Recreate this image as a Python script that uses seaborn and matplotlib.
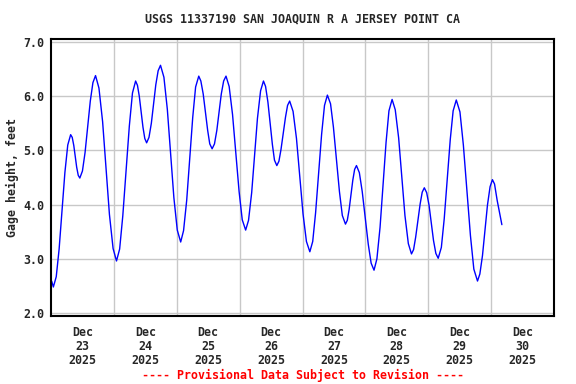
import matplotlib
matplotlib.use("Agg")
import matplotlib.pyplot as plt
import matplotlib.dates as mdates
import seaborn as sns
import pandas as pd

# ---- data (hours since 2025-12-23 00:00, gage height ft) ----
hours = [0.25, 0.9,
         2.0, 3.1, 5.3, 6.4, 7.5,
         8.1, 8.7, 9.8, 10.4, 11.0,
         12.0, 13.0, 15.0, 16.0, 17.0,
         18.3, 19.7, 22.3, 23.7, 25.0,
         26.2, 27.4, 29.9, 31.1, 32.3,
         33.0, 33.7, 35.1, 35.8, 36.5,
         37.4, 38.3, 40.0, 40.9, 41.8,
         43.1, 44.4, 46.9, 48.2, 49.5,
         50.6, 51.8, 54.1, 55.2, 56.4,
         57.2, 58.1, 59.8, 60.6, 61.5,
         62.4, 63.3, 65.0, 65.9, 66.8,
         68.0, 69.3, 71.8, 73.0, 74.3,
         75.4, 76.6, 78.8, 80.0, 81.1,
         81.9, 82.8, 84.5, 85.3, 86.2,
         87.0, 87.8, 89.5, 90.3, 91.1,
         92.4, 93.7, 96.2, 97.5, 98.8,
         99.9, 101.0, 103.3, 104.4, 105.5,
         106.7, 107.8, 110.1, 111.2, 112.4,
         113.1, 113.8, 115.2, 115.9, 116.6,
         117.7, 118.8, 121.1, 122.2, 123.3,
         124.4, 125.6, 127.9, 129.0, 130.2,
         131.4, 132.7, 135.1, 136.4, 137.6,
         138.4, 139.2, 140.9, 141.7, 142.5,
         143.4, 144.3, 146.0, 146.9, 147.8,
         149.0, 150.1, 152.4, 153.5, 154.7,
         156.1, 157.4, 160.1, 161.4, 162.8,
         163.7, 164.7, 166.6, 167.6, 168.5,
         169.3, 170.3, 172.1]
gage_ft = [2.59, 2.48,
           2.67, 3.18, 4.59, 5.10, 5.29,
           5.24, 5.09, 4.69, 4.54, 4.49,
           4.62, 4.96, 5.91, 6.25, 6.38,
           6.15, 5.53, 3.82, 3.19, 2.96,
           3.18, 3.79, 5.45, 6.06, 6.28,
           6.20, 6.00, 5.43, 5.22, 5.14,
           5.24, 5.50, 6.21, 6.47, 6.57,
           6.35, 5.76, 4.13, 3.53, 3.31,
           3.52, 4.08, 5.61, 6.17, 6.37,
           6.28, 6.04, 5.37, 5.12, 5.03,
           5.12, 5.37, 6.04, 6.28, 6.37,
           6.18, 5.66, 4.24, 3.72, 3.53,
           3.71, 4.22, 5.59, 6.10, 6.28,
           6.18, 5.89, 5.11, 4.82, 4.72,
           4.80, 5.02, 5.61, 5.83, 5.91,
           5.72, 5.22, 3.83, 3.32, 3.13,
           3.32, 3.85, 5.30, 5.83, 6.02,
           5.86, 5.43, 4.24, 3.80, 3.64,
           3.71, 3.91, 4.45, 4.65, 4.72,
           4.59, 4.24, 3.27, 2.92, 2.79,
           3.00, 3.58, 5.15, 5.73, 5.94,
           5.75, 5.23, 3.80, 3.28, 3.09,
           3.17, 3.40, 4.01, 4.23, 4.31,
           4.22, 3.99, 3.34, 3.10, 3.01,
           3.21, 3.74, 5.20, 5.73, 5.93,
           5.71, 5.10, 3.43, 2.81, 2.59,
           2.72, 3.06, 3.99, 4.33, 4.46,
           4.38, 4.08, 3.63]
day_numbers = [23, 24, 25, 26, 27, 28, 29, 30]
day_labels = [f"Dec\n{d}\n2025" for d in day_numbers]
y_ticks = [2.0, 3.0, 4.0, 5.0, 6.0, 7.0]
title = "USGS 11337190 SAN JOAQUIN R A JERSEY POINT CA"
footer = "---- Provisional Data Subject to Revision ----"

start = pd.Timestamp("2025-12-23")
df = pd.DataFrame({
    "time": start + pd.to_timedelta(hours, unit="h"),
    "gage": gage_ft,
})

sns.set_style("white")
plt.rcParams["font.family"] = ["DejaVu Sans Mono"]
plt.rcParams["font.weight"] = "bold"
FS = 8.4

fig = plt.figure(figsize=(5.76, 3.84), dpi=100)
ax = fig.add_axes([51 / 576, 1 - 316 / 384, (554 - 51) / 576, (316 - 39) / 384])

sns.lineplot(data=df, x="time", y="gage", color="#0000ff", linewidth=1.0, ax=ax)

ax.set_xlim(mdates.date2num(start), mdates.date2num(start + pd.Timedelta(days=8)))
ax.set_ylim(1.945, 7.055)

major = [mdates.date2num(start + pd.Timedelta(days=i, hours=12)) for i in range(len(day_numbers))]
minor = [mdates.date2num(start + pd.Timedelta(days=i)) for i in range(1, 8)]
ax.set_xticks(major)
ax.set_xticklabels(day_labels, fontsize=FS, fontweight="bold", linespacing=1.1)
ax.set_xticks(minor, minor=True)
ax.set_yticks(y_ticks)
ax.set_yticklabels([f"{v:.1f}" for v in y_ticks], fontsize=FS, fontweight="bold")

ax.tick_params(axis="both", which="both", length=0)
ax.tick_params(axis="x", pad=7)
ax.tick_params(axis="y", pad=5)

ax.grid(False)
ax.xaxis.grid(True, which="minor", color="#c8c8c8", linewidth=1.0)
ax.yaxis.grid(True, which="major", color="#c8c8c8", linewidth=1.0)
ax.set_axisbelow(True)

for s in ax.spines.values():
    s.set_visible(True)
    s.set_color("black")
    s.set_linewidth(1.5)

ax.set_xlabel("")
ax.set_ylabel("Gage height, feet", fontsize=FS, fontweight="bold", labelpad=3)

cx = (51 + 554) / 2 / 576
fig.text(cx, 1 - 19 / 384, title, ha="center", va="center", fontsize=FS, fontweight="bold")
fig.text(cx, 1 - 375 / 384, footer, ha="center", va="center", fontsize=FS,
         fontweight="bold", color="#ff0000")

fig.savefig("out.png", dpi=100)
